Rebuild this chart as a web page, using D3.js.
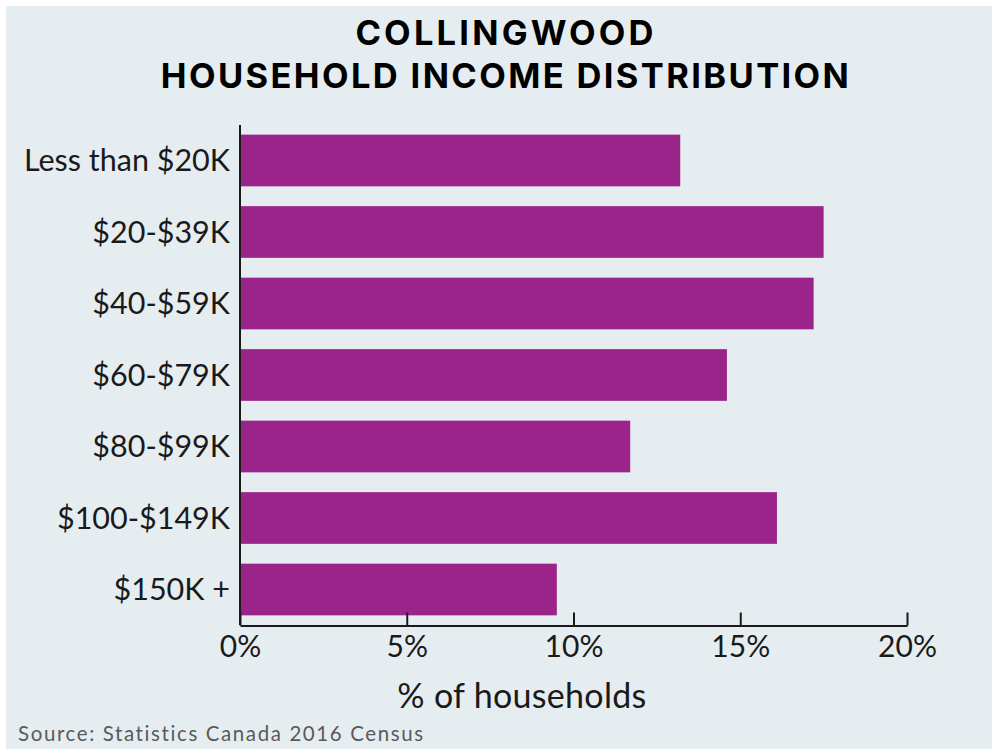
<!DOCTYPE html>
<html>
<head>
<meta charset="utf-8">
<script src="https://cdn.jsdelivr.net/npm/d3@7"></script>
<style>
  html, body { margin: 0; padding: 0; background: #ffffff; }
  svg { display: block; }
</style>
</head>
<body>
<svg id="chart" width="992" height="749"></svg>
<script>
// Household income brackets and share of households (%)
const categories = ["Less than $20K", "$20-$39K", "$40-$59K", "$60-$79K", "$80-$99K", "$100-$149K", "$150K +"];
const shares = [13.2, 17.5, 17.2, 14.6, 11.7, 16.1, 9.5];
const tickValues = [0, 5, 10, 15, 20];
const titleLines = ["COLLINGWOOD", "HOUSEHOLD INCOME DISTRIBUTION"];
const axisTitle = "% of households";
const sourceNote = "Source: Statistics Canada 2016 Census";

const W = 992, H = 749;
const BG = "#e6edf1";
const BAR = "#9a248a";
const INK = "#1a1a1a";
const FONT = "Lato, 'Open Sans', sans-serif";
const TITLE_FONT = "Inter, Lato, sans-serif";

const svg = d3.select("#chart");

// panel background
svg.append("rect")
  .attr("x", 6).attr("y", 6)
  .attr("width", W - 6).attr("height", H - 6)
  .attr("fill", BG);

// adjust letter spacing so a text fills a given width
function fitWidth(sel, target) {
  const node = sel.node();
  const len = node.getComputedTextLength();
  const n = sel.text().length;
  if (n > 1) sel.attr("letter-spacing", ((target - len) / (n - 1)).toFixed(2));
}

// title
const title = svg.append("g").attr("font-family", TITLE_FONT).attr("font-weight", 700)
  .attr("fill", "#000").attr("text-anchor", "middle");
const t1 = title.append("text").attr("x", 506).attr("y", 45).attr("font-size", 34.5).text(titleLines[0]);
const t2 = title.append("text").attr("x", 506).attr("y", 88).attr("font-size", 34.5).text(titleLines[1]);
fitWidth(t1, 298);
fitWidth(t2, 688);

// scales
const x = d3.scaleLinear().domain([0, 20]).range([240, 907]);
const y = d3.scaleBand().domain(categories).range([125, 625])
  .paddingInner(0.277).paddingOuter(0.135);

// bars
svg.append("g").selectAll("rect")
  .data(categories)
  .join("rect")
  .attr("x", x(0))
  .attr("y", d => y(d))
  .attr("width", (d, i) => x(shares[i]) - x(0))
  .attr("height", y.bandwidth())
  .attr("fill", BAR);

// category labels with the vertical axis line
const yAxis = svg.append("g")
  .attr("transform", `translate(${x(0)},0)`)
  .call(d3.axisLeft(y).tickSize(0).tickPadding(10));
yAxis.select(".domain").attr("stroke", INK).attr("stroke-width", 2)
  .attr("d", "M0,125V625");
yAxis.selectAll("text")
  .attr("font-family", FONT).attr("font-size", 30.5).attr("fill", INK)
  .attr("dy", "0.36em");

// horizontal axis with ticks pointing into the plot
const xAxis = svg.append("g")
  .attr("transform", "translate(0,625.5)")
  .call(d3.axisBottom(x).tickValues(tickValues).tickFormat(d => d + "%")
    .tickSizeInner(-13).tickSizeOuter(0));
xAxis.select(".domain").attr("stroke", INK).attr("stroke-width", 2);
xAxis.selectAll(".tick line").attr("stroke", INK).attr("stroke-width", 2);
xAxis.selectAll("text")
  .attr("font-family", FONT).attr("font-size", 30).attr("fill", INK)
  .attr("y", 31.5).attr("dy", 0);

// axis title
const at = svg.append("text")
  .attr("x", 522).attr("y", 708)
  .attr("text-anchor", "middle")
  .attr("font-family", FONT).attr("font-size", 34).attr("fill", INK)
  .text(axisTitle);
fitWidth(at, 249);

// source note
const src = svg.append("text")
  .attr("x", 18).attr("y", 741)
  .attr("font-family", FONT).attr("font-size", 20.5).attr("fill", "#5a5a5a")
  .text(sourceNote);
fitWidth(src, 406);
</script>
</body>
</html>
